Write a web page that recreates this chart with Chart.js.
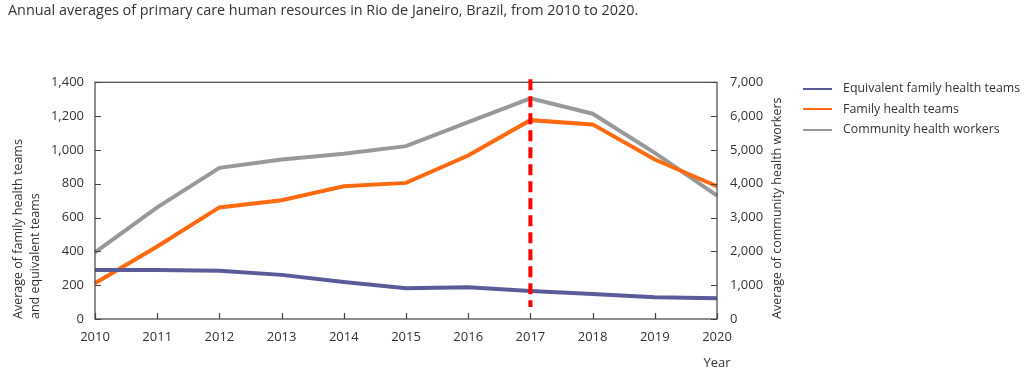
<!DOCTYPE html>
<html>
<head>
<meta charset="utf-8">
<script src="https://cdn.jsdelivr.net/npm/chart.js@4/dist/chart.umd.min.js"></script>
<style>
    html, body { margin: 0; padding: 0; background: #fff; }
    #wrap { width: 1024px; height: 373px; position: relative; }
    #legend { position: absolute; left: 803px; top: 78px; font-family: 'Open Sans', sans-serif; font-size: 12.4px; color: #333; }
    #legend .item { height: 20.5px; line-height: 20.5px; white-space: nowrap; }
    #legend .swatch { display: inline-block; width: 29px; height: 2px; vertical-align: middle; margin-right: 11px; }
</style>
</head>
<body>
<div id="wrap"><canvas id="chart"></canvas><div id="legend"></div></div>
<script>
'use strict';

var years = ['2010', '2011', '2012', '2013', '2014', '2015', '2016', '2017', '2018', '2019', '2020'];
var equivalentTeams = [290, 290, 285, 261, 219, 182, 188, 166, 148, 129, 123];
var familyTeams = [212, 429, 660, 702, 785, 805, 967, 1176, 1151, 943, 785];
var communityWorkers = [1970, 3300, 4470, 4716, 4885, 5111, 5823, 6525, 6071, 4914, 3648];
var markerYear = '2017';

var textColor = '#333333';
var axisColor = '#444444';

Chart.defaults.font.family = "'Open Sans', sans-serif";
Chart.defaults.font.size = 13;
Chart.defaults.color = textColor;

// legend built from the datasets, kept in html so it can sit right of the axis
var htmlLegendPlugin = {
    id: 'htmlLegend',
    afterUpdate: function (chart) {
        var box = document.getElementById('legend');
        box.innerHTML = '';
        chart.data.datasets.forEach(function (ds) {
            var item = document.createElement('div');
            item.className = 'item';
            var sw = document.createElement('span');
            sw.className = 'swatch';
            sw.style.background = ds.borderColor;
            item.appendChild(sw);
            item.appendChild(document.createTextNode(ds.label));
            box.appendChild(item);
        });
    }
};

// ticks drawn inward, full frame, dashed marker, custom titles
var decorPlugin = {
    id: 'decor',
    afterDatasetsDraw: function (chart) {
        var ctx = chart.ctx;
        var area = chart.chartArea;
        var x = chart.scales.x;
        var yl = chart.scales.y;
        var yr = chart.scales.y1;
        var i, px;

        ctx.save();
        ctx.strokeStyle = axisColor;
        ctx.lineWidth = 1.2;
        ctx.strokeRect(area.left, area.top, area.right - area.left, area.bottom - area.top);

        ctx.beginPath();
        for (i = 0; i < x.ticks.length; i++) {
            px = Math.round(x.getPixelForTick(i)) + 0.5;
            ctx.moveTo(px, area.bottom);
            ctx.lineTo(px, area.bottom - 6);
        }
        for (i = 0; i < yl.ticks.length; i++) {
            px = Math.round(yl.getPixelForTick(i)) + 0.5;
            ctx.moveTo(area.left, px);
            ctx.lineTo(area.left + 6, px);
        }
        for (i = 0; i < yr.ticks.length; i++) {
            px = Math.round(yr.getPixelForTick(i)) + 0.5;
            ctx.moveTo(area.right, px);
            ctx.lineTo(area.right - 6, px);
        }
        ctx.stroke();

        // 2017 marker
        var mx = x.getPixelForValue(years.indexOf(markerYear));
        ctx.strokeStyle = '#ff0000';
        ctx.lineWidth = 4;
        ctx.setLineDash([11, 6]);
        ctx.beginPath();
        ctx.moveTo(mx, area.top - 3);
        ctx.lineTo(mx, area.bottom - 12);
        ctx.stroke();
        ctx.setLineDash([]);

        // right axis title, reading bottom to top
        ctx.fillStyle = textColor;
        ctx.font = "12.5px 'Open Sans', sans-serif";
        ctx.translate(area.right + 60, area.bottom);
        ctx.rotate(-Math.PI / 2);
        ctx.textAlign = 'left';
        ctx.textBaseline = 'middle';
        ctx.fillText('Average of community health workers', 0, 0);
        ctx.restore();

        ctx.save();
        ctx.fillStyle = textColor;
        ctx.font = "13px 'Open Sans', sans-serif";
        ctx.textAlign = 'center';
        ctx.textBaseline = 'middle';
        ctx.fillText('Year', area.right, 363);
        ctx.restore();
    }
};

function makeDataset(label, data, color, axis) {
    return {
        label: label,
        data: data,
        borderColor: color,
        backgroundColor: color,
        borderWidth: 4,
        pointRadius: 0,
        tension: 0,
        yAxisID: axis
    };
}

new Chart(document.getElementById('chart'), {
    type: 'line',
    data: {
        labels: years,
        datasets: [
            makeDataset('Equivalent family health teams', equivalentTeams, '#5b5b99', 'y'),
            makeDataset('Family health teams', familyTeams, '#ff6a10', 'y'),
            makeDataset('Community health workers', communityWorkers, '#999999', 'y1')
        ]
    },
    options: {
        responsive: true,
        maintainAspectRatio: false,
        animation: false,
        layout: { padding: { left: 8, right: 229, top: 0, bottom: 0 } },
        plugins: {
            tooltip: { enabled: false },
            legend: { display: false },
            title: {
                display: true,
                text: 'Annual averages of primary care human resources in Rio de Janeiro, Brazil, from 2010 to 2020.',
                align: 'start',
                color: textColor,
                font: { size: 14.4, weight: 'normal' },
                padding: { top: 2, bottom: 63 }
            }
        },
        scales: {
            x: {
                offset: false,
                grid: { display: false, drawTicks: false },
                border: { display: false },
                ticks: { padding: 10, maxRotation: 0, autoSkip: false },
                afterFit: function (scale) { scale.height = 54; }
            },
            y: {
                position: 'left',
                min: 0,
                max: 1400,
                grid: { display: false, drawTicks: false },
                border: { display: false },
                ticks: {
                    stepSize: 200,
                    padding: 11,
                    callback: function (v) { return v.toLocaleString('en-US'); }
                },
                title: {
                    display: true,
                    text: ['Average of family health teams', 'and equivalent teams'],
                    align: 'start',
                    font: { size: 12.5, lineHeight: 1.35 },
                    padding: 2
                },
                afterFit: function (scale) { scale.width = 87; }
            },
            y1: {
                position: 'right',
                min: 0,
                max: 7000,
                grid: { display: false, drawTicks: false },
                border: { display: false },
                ticks: {
                    stepSize: 1000,
                    padding: 13,
                    callback: function (v) { return v.toLocaleString('en-US'); }
                },
                afterFit: function (scale) { scale.width = 78; }
            }
        }
    },
    plugins: [htmlLegendPlugin, decorPlugin]
});
</script>
</body>
</html>
